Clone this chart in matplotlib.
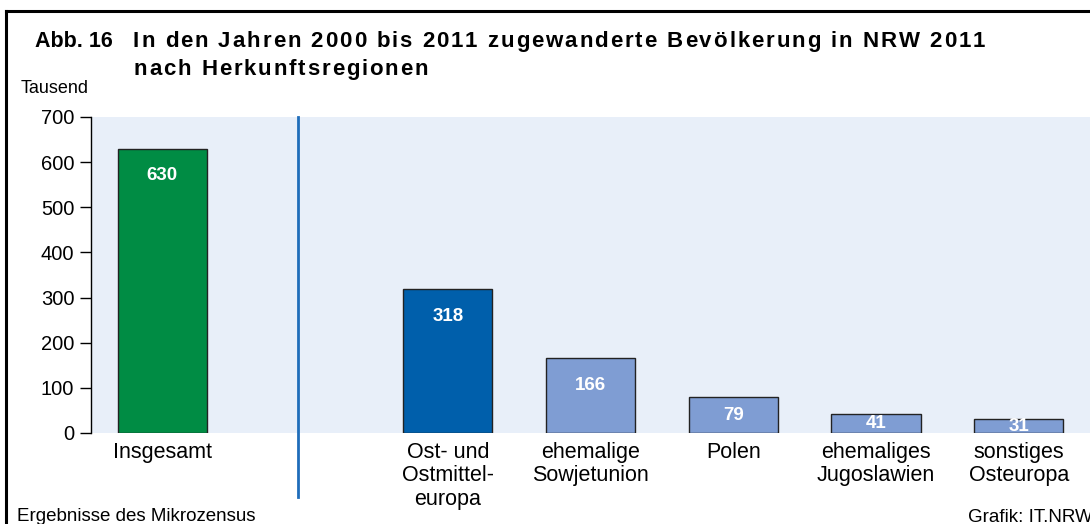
import matplotlib.pyplot as plt
from matplotlib.lines import Line2D
import matplotlib.transforms as mtransforms
from matplotlib import font_manager

plt.rcParams['font.family'] = ['Liberation Sans', 'DejaVu Sans']

categories = ['Insgesamt', 'Ost- und\nOstmittel-\neuropa', 'ehemalige\nSowjetunion',
              'Polen', 'ehemaliges\nJugoslawien', 'sonstiges\nOsteuropa']
values = [630, 318, 166, 79, 41, 31]
positions = [0, 2, 3, 4, 5, 6]
colors = ['#008C44', '#005FAB', '#7F9DD3', '#7F9DD3', '#7F9DD3', '#7F9DD3']
yticks = [0, 100, 200, 300, 400, 500, 600, 700]

W, H = 1090, 524
fig = plt.figure(figsize=(W / 100, H / 100), dpi=100)
ax = fig.add_axes([91 / W, 91 / H, 1 - 91 / W, 316 / H])
ax.set_facecolor('#E8EFF9')

ax.bar(positions, values, width=0.625, color=colors, edgecolor='#222222', linewidth=1, zorder=2)

# value labels: near the top for tall bars, centred for short ones
for x, v in zip(positions, values):
    y = max(v - 60, v / 2)
    ax.text(x, y, str(v), ha='center', va='center', color='white',
            fontsize=13.5, fontweight='bold', clip_on=True, zorder=3)

ax.set_xlim(-0.5, 6.5)
ax.set_ylim(0, 700)
ax.set_yticks(yticks)
ax.set_xticks([])
ax.tick_params(axis='y', direction='out', length=8, width=1, labelsize=14.5, pad=4)
for s in ['top', 'right', 'bottom']:
    ax.spines[s].set_visible(False)
ax.spines['left'].set_linewidth(1)

# category labels below the axis
trans = mtransforms.blended_transform_factory(ax.transData, ax.transAxes)
for x, lab in zip(positions, categories):
    ax.text(x, -9 / 316, lab, transform=trans, ha='center', va='top',
            fontsize=15.5, linespacing=1.15, multialignment='center', clip_on=False)

# separator between total and regions
ax.plot([0.95, 0.95], [1.0, -0.203], color='#1F6DBA', linewidth=2,
        transform=trans, clip_on=False, zorder=4)

# frame lines
fig.add_artist(Line2D([6 / W, 6 / W], [0, 1 - 11 / H], color='black', linewidth=2.2))
fig.add_artist(Line2D([6 / W, 1], [1 - 11 / H, 1 - 11 / H], color='black', linewidth=2.2))

renderer = fig.canvas.get_renderer()


def spaced_text(x0, x1, y, s, size):
    # bold title text with slight letter spacing so it spans x0..x1 pixels
    fp = font_manager.FontProperties(family='Liberation Sans', weight='bold', size=size)
    base = renderer.get_text_width_height_descent('xx', fp, ismath=False)[0]
    adv = [renderer.get_text_width_height_descent('x' + c + 'x', fp, ismath=False)[0] - base
           for c in s]
    track = (x1 - x0 - sum(adv)) / (len(s) - 1)
    x = x0
    for c, a in zip(s, adv):
        if c != ' ':
            fig.text((x + a / 2) / W, 1 - y / H, c, fontproperties=fp, ha='center', va='baseline')
        x += a + track


fig.text(35 / W, 1 - 47 / H, 'Abb. 16', fontsize=15.5, fontweight='bold', va='baseline')
spaced_text(133, 985, 47, 'In den Jahren 2000 bis 2011 zugewanderte Bevölkerung in NRW 2011', 16)
spaced_text(134, 428, 75, 'nach Herkunftsregionen', 16)
fig.text(21 / W, 1 - 93 / H, 'Tausend', fontsize=13, va='baseline')
fig.text(17 / W, 1 - 521 / H, 'Ergebnisse des Mikrozensus', fontsize=13.5, va='baseline')
fig.text(1093 / W, 1 - 522 / H, 'Grafik: IT.NRW', fontsize=13.5, va='baseline', ha='right')

fig.savefig('out.png', dpi=100)
